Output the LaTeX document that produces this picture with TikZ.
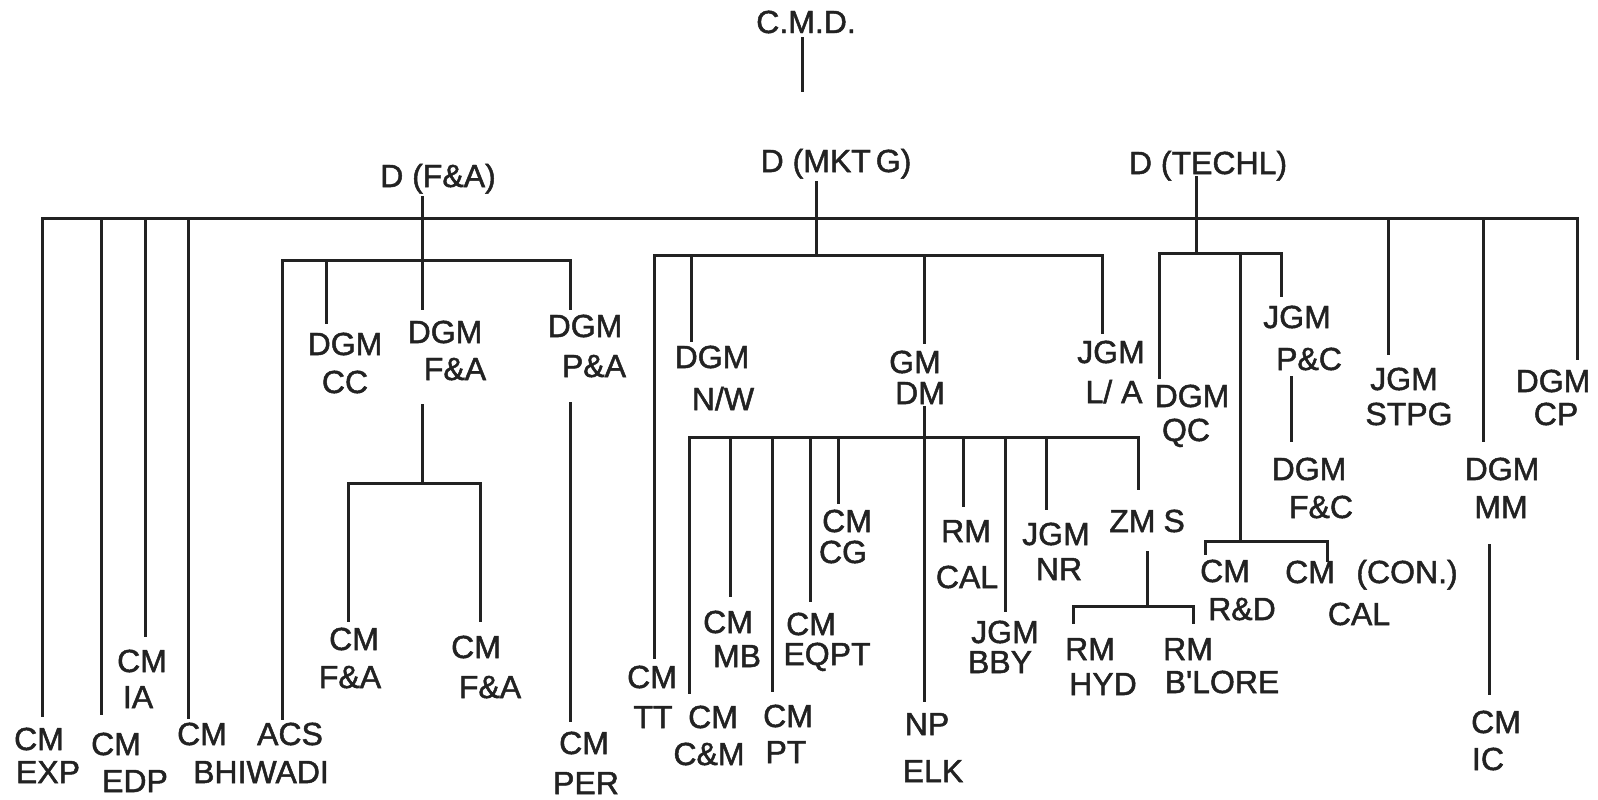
\documentclass[tikz,border=0pt]{standalone}
\usepackage{fontspec}
\setmainfont{Liberation Sans}
\newfontfamily\lblfont[FakeBold=1.5]{Liberation Sans}
\definecolor{ink}{HTML}{222222}
\tikzset{
  lbl/.style={anchor=base,inner sep=0pt,font=\lblfont\fontsize{16}{19}\selectfont,text=ink},
  conn/.style={draw=ink,line width=1.5pt,line cap=rect}
}
\newcommand\vconn[4]{\coordinate (#1a) at (#2,#3);\coordinate (#1b) at (#2,#4);\draw[conn] (#1a) -- (#1b);}
\newcommand\hconn[4]{\coordinate (#1a) at (#3,#2);\coordinate (#1b) at (#4,#2);\draw[conn] (#1a) -- (#1b);}
\begin{document}
\begin{tikzpicture}[x=0.5pt,y=-0.5pt]
\useasboundingbox (0,0) rectangle (1598,799);
\fill[white] (0,0) rectangle (1598,799);
% labels
\node[lbl] (cmd) at (806,33) {C.M.D.};
\node[lbl] (dfa) at (438,187) {D (F\&A)};
\node[lbl] (dmk) at (836,172) {D (MKT\kern2.5pt G)};
\node[lbl] (dte) at (1208,174) {D (TECHL)};
\node[lbl] (cc1) at (345,355) {DGM}; \node[lbl] (cc2) at (345,393) {CC};
\node[lbl] (fa1) at (445,343) {DGM}; \node[lbl] (fa2) at (455,380) {F\&A};
\node[lbl] (pa1) at (585,337) {DGM}; \node[lbl] (pa2) at (594,377) {P\&A};
\node[lbl] (nw1) at (712,368) {DGM}; \node[lbl] (nw2) at (723,410) {N/W};
\node[lbl] (dm1) at (915,373) {GM}; \node[lbl] (dm2) at (920,404) {DM};
\node[lbl] (la1) at (1111,363) {JGM}; \node[lbl] (la2) at (1114,403) {L/ A};
\node[lbl] (qc1) at (1192,407) {DGM}; \node[lbl] (qc2) at (1186,441) {QC};
\node[lbl] (pc1) at (1297,328) {JGM}; \node[lbl] (pc2) at (1309,370) {P\&C};
\node[lbl] (fc1) at (1309,480) {DGM}; \node[lbl] (fc2) at (1321,518) {F\&C};
\node[lbl] (st1) at (1404,390) {JGM}; \node[lbl] (st2) at (1409,425) {STPG};
\node[lbl] (cp1) at (1553,392) {DGM}; \node[lbl] (cp2) at (1556,425) {CP};
\node[lbl] (mm1) at (1502,480) {DGM}; \node[lbl] (mm2) at (1501,518) {MM};
\node[lbl] (ic1) at (1496,733) {CM}; \node[lbl] (ic2) at (1488,770) {IC};
\node[lbl] (rd1) at (1225,582) {CM}; \node[lbl] (rd2) at (1242,620) {R\&D};
\node[lbl] (con1) at (1310,583) {CM}; \node[lbl] (con2) at (1407,583) {(CON.)};
\node[lbl] (con3) at (1359,625) {CAL};
\node[lbl] (hy1) at (1090,660) {RM}; \node[lbl] (hy2) at (1103,695) {HYD};
\node[lbl] (bl1) at (1188,660) {RM}; \node[lbl] (bl2) at (1222,693) {B'LORE};
\node[lbl] (zms) at (1147,532) {ZM\kern4pt S};
\node[lbl] (nr1) at (1056,545) {JGM}; \node[lbl] (nr2) at (1059,580) {NR};
\node[lbl] (ca1) at (966,542) {RM}; \node[lbl] (ca2) at (967,588) {CAL};
\node[lbl] (bb1) at (1005,643) {JGM}; \node[lbl] (bb2) at (1000,673) {BBY};
\node[lbl] (np1) at (927,735) {NP}; \node[lbl] (np2) at (933,782) {ELK};
\node[lbl] (cg1) at (847,532) {CM}; \node[lbl] (cg2) at (843,563) {CG};
\node[lbl] (eq1) at (811,635) {CM}; \node[lbl] (eq2) at (827,665) {EQPT};
\node[lbl] (pt1) at (788,727) {CM}; \node[lbl] (pt2) at (786,763) {PT};
\node[lbl] (mb1) at (728,633) {CM}; \node[lbl] (mb2) at (737,667) {MB};
\node[lbl] (cm1) at (713,728) {CM}; \node[lbl] (cm2) at (709,765) {C\&M};
\node[lbl] (tt1) at (652,688) {CM}; \node[lbl] (tt2) at (653,728) {TT};
\node[lbl] (pe1) at (584,754) {CM}; \node[lbl] (pe2) at (586,794) {PER};
\node[lbl] (f11) at (354,650) {CM}; \node[lbl] (f12) at (350,688) {F\&A};
\node[lbl] (f21) at (476,658) {CM}; \node[lbl] (f22) at (490,698) {F\&A};
\node[lbl] (ia1) at (142,672) {CM}; \node[lbl] (ia2) at (138,708) {IA};
\node[lbl] (ex1) at (39,750) {CM}; \node[lbl] (ex2) at (48,783) {EXP};
\node[lbl] (ed1) at (116,755) {CM}; \node[lbl] (ed2) at (135,792) {EDP};
\node[lbl] (bh1) at (202,745) {CM}; \node[lbl] (bh2) at (261,783) {BHIWADI};
\node[lbl] (acs) at (290,745) {ACS};
% connectors
\vconn{c0}{802}{38}{90}
\hconn{mb}{218}{42}{1577}
\vconn{v1}{42}{218}{715}
\vconn{v2}{101}{218}{713}
\vconn{v3}{145}{218}{635}
\vconn{v4}{188}{218}{717}
\vconn{vfa}{422}{197}{308}
\vconn{vmk}{816}{182}{255}
\vconn{vte}{1196}{177}{253}
\vconn{v5}{1388}{218}{353}
\vconn{v6}{1483}{218}{440}
\vconn{v7}{1577}{218}{358}
\hconn{fab}{260}{282}{570}
\vconn{v8}{282}{260}{718}
\vconn{v9}{326}{260}{322}
\vconn{v10}{570}{260}{308}
\vconn{v11}{422}{405}{483}
\hconn{fab2}{483}{348}{480}
\vconn{v12}{348}{483}{620}
\vconn{v13}{480}{483}{620}
\vconn{v14}{570}{403}{720}
\hconn{mkb}{255}{654}{1102}
\vconn{v15}{654}{255}{657}
\vconn{v16}{691}{255}{340}
\vconn{v17}{924}{255}{342}
\vconn{v18}{1102}{255}{332}
\vconn{v19}{924}{407}{700}
\hconn{dmb}{437}{689}{1138}
\vconn{v20}{689}{437}{692}
\vconn{v21}{730}{437}{595}
\vconn{v22}{772}{437}{690}
\vconn{v23}{810}{437}{600}
\vconn{v24}{838}{437}{502}
\vconn{v25}{963}{437}{505}
\vconn{v26}{1005}{437}{610}
\vconn{v27}{1046}{437}{508}
\vconn{v28}{1138}{437}{488}
\vconn{v29}{1147}{552}{606}
\hconn{zmb}{606}{1073}{1193}
\vconn{v30}{1073}{606}{622}
\vconn{v31}{1193}{606}{622}
\hconn{teb}{253}{1159}{1281}
\vconn{v32}{1159}{253}{377}
\vconn{v33}{1240}{253}{541}
\vconn{v34}{1281}{253}{295}
\vconn{v35}{1291}{377}{440}
\hconn{rdb}{541}{1205}{1327}
\vconn{v36}{1205}{541}{553}
\vconn{v37}{1327}{541}{560}
\vconn{v38}{1489}{545}{693}
\end{tikzpicture}
\end{document}
